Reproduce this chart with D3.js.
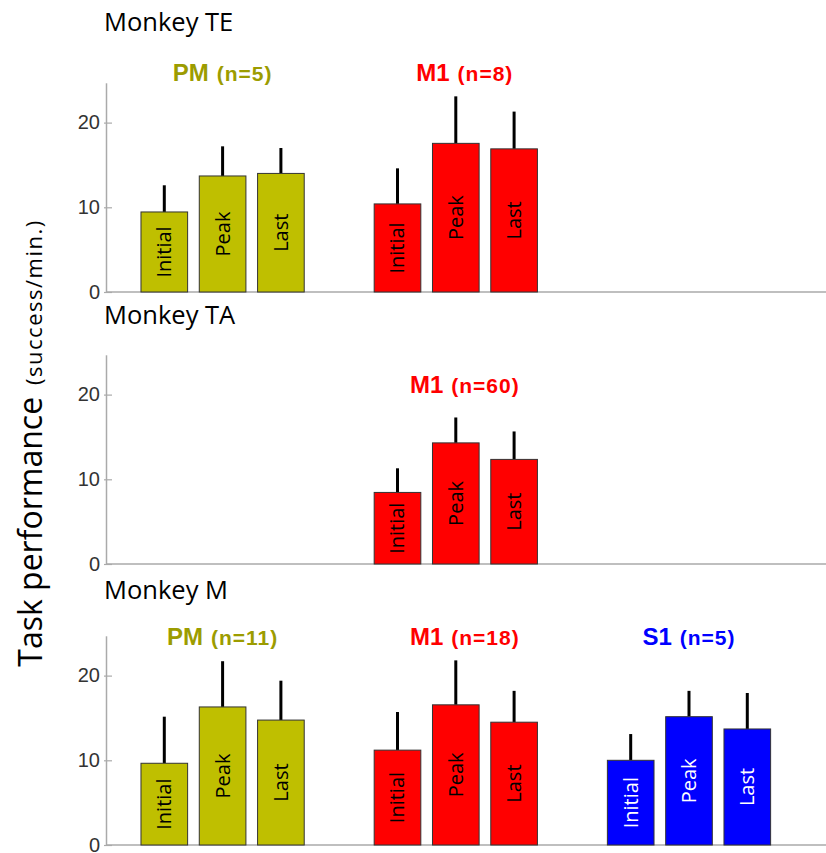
<!DOCTYPE html>
<html>
<head>
<meta charset="utf-8">
<script src="https://cdn.jsdelivr.net/npm/d3@7"></script>
<style>
  body { margin: 0; background: #fff; }
  svg { display: block; }
</style>
</head>
<body>
<div id="chart-area"></div>
<script>
// values (mean, and length of the error bar above it)
const monkeys = ["Monkey TE", "Monkey TA", "Monkey M"];
const areas = ["PM", "M1", "S1"];
const phases = ["Initial", "Peak", "Last"];
const yTicks = [0, 10, 20];

const teN = [5, 8, null];
const teMean = [[9.45, 13.7, 14.0], [10.4, 17.55, 16.9], null];
const teErr = [[3.15, 3.5, 3.0], [4.2, 5.55, 4.4], null];

const taN = [null, 60, null];
const taMean = [null, [8.45, 14.3, 12.35], null];
const taErr = [null, [2.85, 3.0, 3.3], null];

const mN = [11, 18, 5];
const mMean = [[9.65, 16.3, 14.75], [11.2, 16.55, 14.5], [10.0, 15.15, 13.7]];
const mErr = [[5.5, 5.4, 4.65], [4.5, 5.25, 3.7], [3.1, 3.05, 4.25]];

const panelData = [
    {n: teN, mean: teMean, err: teErr},
    {n: taN, mean: taMean, err: taErr},
    {n: mN, mean: mMean, err: mErr}
];

const barColor = ['#bfbf00', '#ff0000', '#0000ff'];
const labelColor = ['#9c9c00', '#ff0000', '#0000ff'];
const barTextColor = ['#000', '#000', '#fff'];

// layout
const width = 826, height = 853;
const zeroY = [292, 564, 845];
const titleY = [31, 324, 599];
const labelLevel = [24.9, 20.2, 23.6];
const labelShift = [0, 9, 0];
const axisX = 106;

const svg = d3.select('#chart-area')
    .append('svg')
    .attr('width', width)
    .attr('height', height);

const x = d3.scaleLinear()
    .domain([0, 12.35])
    .range([axisX, 826]);

const barW = x(0.8) - x(0);

panelData.forEach((pd, p) => {
    const y = d3.scaleLinear()
        .domain([0, 24.7])
        .range([zeroY[p], zeroY[p] - 209.2]);

    const g = svg.append('g');

    g.append('text')
        .attr('x', 104)
        .attr('y', titleY[p])
        .attr('font-family', 'Open Sans')
        .attr('font-size', '25.5px')
        .attr('fill', '#000')
        .text(monkeys[p]);

    // y axis
    const yAxisCall = d3.axisLeft(y)
        .tickValues(yTicks)
        .tickSizeInner(-6)
        .tickSizeOuter(0)
        .tickPadding(6)
        .tickFormat(d => d);

    const yAxis = g.append('g')
        .attr('transform', 'translate(' + axisX + ', 0)')
        .call(yAxisCall);
    yAxis.select('.domain').attr('stroke', '#aaa').attr('stroke-width', 1.5);
    yAxis.selectAll('.tick line').attr('x1', -2).attr('x2', 6).attr('stroke', '#aaa').attr('stroke-width', 1.2);
    yAxis.selectAll('.tick text')
        .attr('dy', '0.3em')
        .attr('font-family', 'Liberation Sans, Arial')
        .attr('font-size', '20px')
        .attr('fill', '#333');

    // x axis line
    g.append('line')
        .attr('x1', axisX).attr('x2', width)
        .attr('y1', y(0)).attr('y2', y(0))
        .attr('stroke', '#aaa')
        .attr('stroke-width', 1.5);

    areas.forEach((area, a) => {
        if (!pd.mean[a]) return;
        const bars = phases.map((ph, i) => ({
            phase: ph,
            pos: a * 4 + i + 1,
            mean: pd.mean[a][i],
            err: pd.err[a][i]
        }));

        const grp = g.append('g');

        grp.selectAll('line.err')
            .data(bars)
            .enter()
            .append('line')
            .attr('class', 'err')
            .attr('x1', d => x(d.pos)).attr('x2', d => x(d.pos))
            .attr('y1', d => y(d.mean)).attr('y2', d => y(d.mean + d.err))
            .attr('stroke', '#000')
            .attr('stroke-width', 3);

        grp.selectAll('rect')
            .data(bars)
            .enter()
            .append('rect')
            .attr('x', d => x(d.pos) - barW / 2)
            .attr('y', d => y(d.mean))
            .attr('width', barW)
            .attr('height', d => y(0) - y(d.mean))
            .attr('fill', barColor[a])
            .attr('stroke', '#333')
            .attr('stroke-width', 1);

        grp.selectAll('text.phase')
            .data(bars)
            .enter()
            .append('text')
            .attr('class', 'phase')
            .attr('transform', d => 'translate(' + (x(d.pos) + 7) + ', ' + y(d.mean / 2) + ') rotate(-90)')
            .attr('text-anchor', 'middle')
            .attr('font-family', 'Open Sans')
            .attr('font-size', '20px')
            .attr('fill', barTextColor[a])
            .text(d => d.phase);

        const label = grp.append('text')
            .attr('x', x(a * 4 + 2) + labelShift[a])
            .attr('y', y(labelLevel[p]))
            .attr('text-anchor', 'middle')
            .attr('font-family', 'Liberation Sans, Arial')
            .attr('font-weight', 'bold')
            .attr('fill', labelColor[a]);
        label.append('tspan')
            .attr('font-size', '24px')
            .text(area);
        label.append('tspan')
            .attr('dx', 8)
            .attr('font-size', '21px')
            .attr('letter-spacing', '1px')
            .text('(n=' + pd.n[a] + ')');
    });
});

// shared y title
const yTitle = svg.append('text')
    .attr('transform', 'translate(42, 443) rotate(-90)')
    .attr('text-anchor', 'middle')
    .attr('font-family', 'Open Sans')
    .attr('fill', '#000');
yTitle.append('tspan')
    .attr('font-size', '32px')
    .text('Task performance');
yTitle.append('tspan')
    .attr('dx', 12)
    .attr('font-size', '22px')
    .attr('letter-spacing', '1.5px')
    .text('(success/min.)');
</script>
</body>
</html>
